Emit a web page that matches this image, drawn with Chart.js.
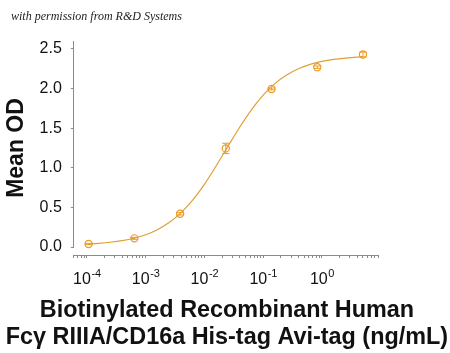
<!DOCTYPE html>
<html>
<head>
<meta charset="utf-8">
<script src="https://cdn.jsdelivr.net/npm/chart.js@4.4.1/dist/chart.umd.min.js"></script>
<style>
html,body{margin:0;padding:0;background:#fff;}
#wrap{position:relative;width:450px;height:353px;}
</style>
</head>
<body>
<div id="wrap"><canvas id="c" width="450" height="353"></canvas></div>
<script>
// ---- data ----
const concentrations = [0.000107, 0.000643, 0.00386, 0.0231, 0.139, 0.833, 5.0];
const meanOD        = [0.038, 0.110, 0.420, 1.245, 1.995, 2.270, 2.430];
const errOD         = [0.008, 0.012, 0.015, 0.065, 0.012, 0.015, 0.030];

const curveX = [0.000107, 0.000158, 0.000251, 0.000398, 0.000631, 0.001, 0.00158, 0.00251,
                0.00398, 0.00631, 0.01, 0.0158, 0.0251, 0.0398, 0.0631, 0.1, 0.158, 0.251,
                0.398, 0.631, 1.0, 1.58, 2.51, 3.98, 5.0];
const curveY = [0.039, 0.047, 0.061, 0.081, 0.111, 0.155, 0.219, 0.309,
                0.432, 0.593, 0.792, 1.023, 1.270, 1.512, 1.732, 1.916, 2.062, 2.171,
                2.249, 2.305, 2.342, 2.368, 2.385, 2.397, 2.401];

const xMajorTicks = [1e-4, 1e-3, 1e-2, 1e-1, 1];
const xTickBase = '10';
const xTickExponents = ['-4', '-3', '-2', '-1', '0'];
const yTickLabels = ['0.0', '0.5', '1.0', '1.5', '2.0', '2.5'];

const xTitle = ['Biotinylated Recombinant Human', 'Fc\u03B3 RIIIA/CD16a His-tag Avi-tag (ng/mL)'];
const yTitle = 'Mean OD';
const headerText = 'with permission from R&D Systems';

const curveColor = '#DFA035';
const pointColor = '#EC9A22';
const axisColor = '#8a8a8a';
const SANS = '"Liberation Sans", Arial, Helvetica, sans-serif';

// ---- plugins ----
const errorBars = {
  id: 'errorBars',
  afterDatasetsDraw(chart) {
    const {ctx, scales: {x, y}} = chart;
    ctx.save();
    ctx.strokeStyle = pointColor;
    ctx.lineWidth = 1;
    concentrations.forEach((c, i) => {
      const px = x.getPixelForValue(c);
      const top = y.getPixelForValue(meanOD[i] + errOD[i]);
      const bot = y.getPixelForValue(meanOD[i] - errOD[i]);
      const cap = 3.5;
      ctx.beginPath();
      ctx.moveTo(px, top); ctx.lineTo(px, bot);
      ctx.moveTo(px - cap, top); ctx.lineTo(px + cap, top);
      ctx.moveTo(px - cap, bot); ctx.lineTo(px + cap, bot);
      ctx.stroke();
    });
    ctx.restore();
  }
};

// y-axis spine drawn from the top of the scale down to just below zero (detached from x axis)
const ySpine = {
  id: 'ySpine',
  afterDraw(chart) {
    const {ctx, scales: {y}} = chart;
    ctx.save();
    ctx.strokeStyle = axisColor;
    ctx.lineWidth = 1;
    const xPix = Math.round(y.right) - 0.5;
    ctx.beginPath();
    ctx.moveTo(xPix, y.getPixelForValue(y.max));
    ctx.lineTo(xPix, y.getPixelForValue(-0.012));
    ctx.stroke();
    ctx.restore();
  }
};

// power-of-ten labels with real superscripts, positioned by the x scale
const powerLabels = {
  id: 'powerLabels',
  afterDraw(chart) {
    const {ctx, scales: {x}} = chart;
    ctx.save();
    ctx.fillStyle = '#111';
    ctx.textBaseline = 'alphabetic';
    const baseY = x.top + 28.5;
    xMajorTicks.forEach((v, i) => {
      const px = x.getPixelForValue(v);
      ctx.font = '16px ' + SANS;
      const wb = ctx.measureText(xTickBase).width;
      ctx.font = '11px ' + SANS;
      const we = ctx.measureText(xTickExponents[i]).width;
      const start = px - (wb + we) / 2;
      ctx.font = '16px ' + SANS;
      ctx.fillText(xTickBase, start, baseY);
      ctx.font = '11px ' + SANS;
      ctx.fillText(xTickExponents[i], start + wb + 0.5, baseY - 6.5);
    });
    ctx.restore();
  }
};

// two-line x-axis title, centred on the plot area (not squeezed to its width)
const xAxisTitle = {
  id: 'xAxisTitle',
  afterDraw(chart) {
    const {ctx, chartArea} = chart;
    ctx.save();
    ctx.fillStyle = '#111';
    ctx.font = 'bold 23.4px ' + SANS;
    ctx.textAlign = 'center';
    ctx.textBaseline = 'alphabetic';
    const cx = (chartArea.left + chartArea.right) / 2 + 1;
    ctx.fillText(xTitle[0], cx, chart.height - 36.5);
    ctx.fillText(xTitle[1], cx, chart.height - 9.3);
    ctx.restore();
  }
};

const header = {
  id: 'header',
  afterDraw(chart) {
    const {ctx} = chart;
    ctx.save();
    ctx.font = 'italic 12px "Liberation Serif", "DejaVu Serif", serif';
    ctx.fillStyle = '#222';
    ctx.textBaseline = 'alphabetic';
    ctx.fillText(headerText, 11, 20);
    ctx.restore();
  }
};

// minor + major tick values for the log axis
function logTicks(min, max) {
  const out = [];
  for (let e = -5; e <= 1; e++) {
    for (let m = 1; m <= 9; m++) {
      const v = parseFloat((m * Math.pow(10, e)).toPrecision(6));
      if (v >= min * 0.999 && v <= max * 1.001) out.push({value: v});
    }
  }
  return out;
}

const X_MIN = 6e-5, X_MAX = 9;

new Chart(document.getElementById('c'), {
  type: 'scatter',
  data: {
    datasets: [
      {
        label: 'fit',
        data: curveX.map((v, i) => ({x: v, y: curveY[i]})),
        showLine: true,
        borderColor: curveColor,
        borderWidth: 1.2,
        pointRadius: 0,
        cubicInterpolationMode: 'monotone',
        fill: false,
        order: 2
      },
      {
        label: 'data',
        data: concentrations.map((v, i) => ({x: v, y: meanOD[i]})),
        showLine: false,
        pointStyle: 'circle',
        pointRadius: 3.6,
        pointBorderWidth: 1.2,
        pointBackgroundColor: 'rgba(255,255,255,0)',
        pointBorderColor: pointColor,
        order: 1
      }
    ]
  },
  options: {
    responsive: false,
    animation: false,
    devicePixelRatio: 1,
    layout: {padding: {left: 0, right: 72, top: 41, bottom: 53.8}},
    plugins: {legend: {display: false}, tooltip: {enabled: false}, title: {display: false}},
    scales: {
      x: {
        type: 'logarithmic',
        min: X_MIN, max: X_MAX,
        afterBuildTicks(scale) { scale.ticks = logTicks(X_MIN, X_MAX); },
        grid: {drawOnChartArea: false, drawTicks: true, tickLength: 3, color: axisColor, lineWidth: 1},
        border: {display: true, color: axisColor, width: 1},
        ticks: {
          autoSkip: false, maxRotation: 0, minRotation: 0, padding: 11,
          color: '#111',
          font: {family: SANS, size: 16},
          callback() { return ''; }
        },
        title: {display: false}
      },
      y: {
        type: 'linear',
        min: -0.1, max: 2.6,
        grid: {drawOnChartArea: false, drawTicks: true, tickLength: 3, color: axisColor, lineWidth: 1},
        border: {display: false},
        ticks: {
          stepSize: 0.5, includeBounds: false, padding: 9,
          color: '#111',
          font: {family: SANS, size: 16},
          callback(value) {
            const idx = Math.round(value / 0.5);
            return (Math.abs(value - idx * 0.5) < 1e-6 && idx >= 0 && idx < yTickLabels.length) ? yTickLabels[idx] : '';
          }
        },
        title: {
          display: true, text: yTitle, color: '#111',
          font: {family: SANS, size: 23, weight: 'bold', lineHeight: 1.2},
          padding: {top: 3, bottom: 0}
        }
      }
    }
  },
  plugins: [errorBars, ySpine, powerLabels, xAxisTitle, header]
});
</script>
</body>
</html>
